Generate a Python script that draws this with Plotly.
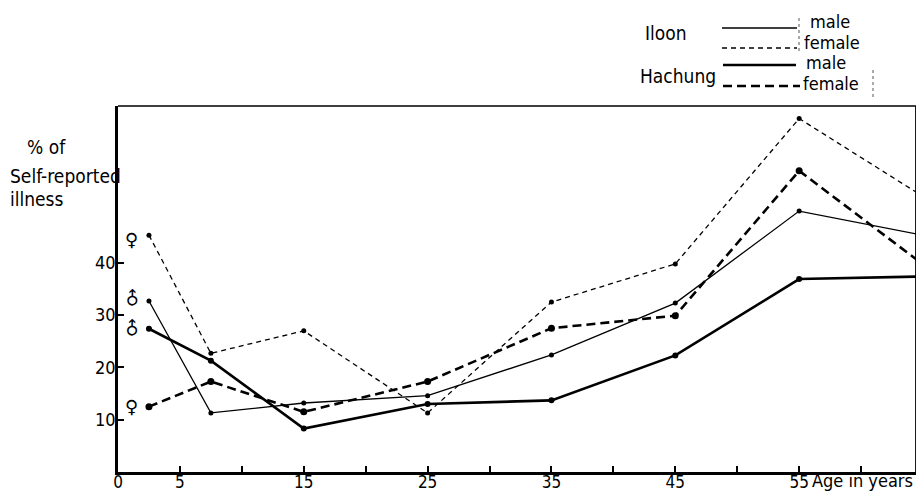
import plotly.graph_objects as go

# ---- data ----
ages = [2.5, 7.5, 15, 25, 35, 45, 55, 65]
iloon_male = [32.7, 11.3, 13.2, 14.6, 22.4, 32.3, 49.9, 45.3]
iloon_female = [45.3, 22.7, 27.0, 11.3, 32.5, 39.8, 67.6, 52.7]
hachung_male = [27.4, 21.3, 8.3, 13.0, 13.7, 22.3, 36.9, 37.4]
hachung_female = [12.5, 17.3, 11.5, 17.3, 27.5, 29.9, 57.6, 39.7]

x_tickvals = [0, 5, 10, 15, 20, 25, 30, 35, 40, 45, 50, 55, 60]
x_ticktext = ["0", "5", "", "15", "", "25", "", "35", "", "45", "", "55", ""]
y_tickvals = [10, 20, 30, 40]
y_ticktext = ["10", "20", "30", "40"]

FONT = "Liberation Sans Narrow, DejaVu Sans Condensed, Arial Narrow, sans-serif"

# page body margin offsets the figure by 8px; layout designed in page pixels
OFF = 8
W, H = 908, 489
PLOT_L, PLOT_R, PLOT_T, PLOT_B = 118, 916, 106, 472      # page pixels
ML, MR, MT, MB = PLOT_L - OFF, W - (PLOT_R - OFF), PLOT_T - OFF, H - (PLOT_B - OFF)
PW, PH = W - ML - MR, H - MT - MB
X_MAX = 65 * (PLOT_R - PLOT_L) / (923 - PLOT_L)   # keep the reference's px-per-year scale


def px(x):
    return (x - OFF - ML) / PW


def py(y):
    return (H - MB - (y - OFF)) / PH


fig = go.Figure()

series = [
    ("Iloon male", iloon_male, 1.3, "solid", 5),
    ("Iloon female", iloon_female, 1.3, "5px,4px", 5),
    ("Hachung male", hachung_male, 2.6, "solid", 6),
    ("Hachung female", hachung_female, 2.6, "9px,5px", 7),
]
for name, vals, w, dash, ms in series:
    fig.add_trace(go.Scatter(
        x=ages, y=vals, name=name, mode="lines+markers",
        line=dict(color="black", width=w, dash=dash),
        marker=dict(color="black", size=ms),
        showlegend=False, cliponaxis=True,
    ))

# gender symbols next to the first points
sym = [("♀", iloon_female[0] - 0.8, 0), ("♂", iloon_male[0] + 0.5, -45),
       ("♂", hachung_male[0], -45), ("♀", hachung_female[0], 0)]
annotations = []
for s, v, ang in sym:
    annotations.append(dict(x=1.1, y=v, xref="x", yref="y", text=s, showarrow=False,
                            textangle=ang, font=dict(family="DejaVu Sans", size=18, color="black")))

# axis title (top-left)
for txt, x, y in [("% of", 25, 147), ("Self-reported", 8, 176), ("illness", 8, 199)]:
    annotations.append(dict(x=px(x), y=py(y), xref="paper", yref="paper", text=txt,
                            showarrow=False, xanchor="left", yanchor="middle",
                            font=dict(family=FONT, size=19, color="black")))
annotations.append(dict(x=px(915), y=py(481), xref="paper", yref="paper", text="Age in years",
                        showarrow=False, xanchor="right", yanchor="middle",
                        font=dict(family=FONT, size=18, color="black")))

# custom legend
for txt, x, y in [("Iloon", 643, 33), ("Hachung", 638, 76)]:
    annotations.append(dict(x=px(x), y=py(y), xref="paper", yref="paper", text=txt,
                            showarrow=False, xanchor="left", yanchor="middle",
                            font=dict(family=FONT, size=19, color="black")))
for txt, x, y in [("male", 808, 22), ("female", 802, 42), ("male", 804, 63), ("female", 801, 84)]:
    annotations.append(dict(x=px(x), y=py(y), xref="paper", yref="paper", text=txt,
                            showarrow=False, xanchor="left", yanchor="middle",
                            font=dict(family=FONT, size=18, color="black")))

shapes = []
for x0, x1, y, w, dash in [(722, 797, 28, 1.3, "solid"), (722, 797, 48, 1.3, "5px,4px"),
                           (723, 796, 65, 2.6, "solid"), (723, 800, 86, 2.6, "9px,5px")]:
    shapes.append(dict(type="line", xref="paper", yref="paper", x0=px(x0), x1=px(x1),
                       y0=py(y), y1=py(y), line=dict(color="black", width=w, dash=dash)))
for x, y0, y1 in [(799, 18, 52), (873, 70, 100)]:
    shapes.append(dict(type="line", xref="paper", yref="paper", x0=px(x), x1=px(x),
                       y0=py(y0), y1=py(y1), line=dict(color="#555", width=1, dash="dot")))
# top and right frame
shapes.append(dict(type="line", xref="paper", yref="paper", x0=0, x1=1, y0=1, y1=1,
                   line=dict(color="black", width=1.5)))
shapes.append(dict(type="line", xref="paper", yref="paper", x0=1, x1=1, y0=0, y1=1,
                   line=dict(color="black", width=1.8)))

fig.update_layout(
    width=W, height=H,
    margin=dict(l=ML, r=MR, t=MT, b=MB),
    paper_bgcolor="white", plot_bgcolor="white",
    annotations=annotations, shapes=shapes,
    xaxis=dict(range=[0, X_MAX], tickvals=x_tickvals, ticktext=x_ticktext, automargin=False,
               ticks="inside", ticklen=6, tickwidth=1.5, tickcolor="black", ticklabelstandoff=-7,
               showline=True, linewidth=2.5, linecolor="black", showgrid=False, zeroline=False,
               tickfont=dict(family=FONT, size=17, color="black")),
    yaxis=dict(range=[0, 70], tickvals=y_tickvals, ticktext=y_ticktext, automargin=False,
               ticks="inside", ticklen=6, tickwidth=1.5, tickcolor="black", ticklabelstandoff=-4,
               showline=True, linewidth=2.5, linecolor="black", showgrid=False, zeroline=False,
               tickfont=dict(family=FONT, size=18, color="black")),
)

fig.write_html("out.html")
